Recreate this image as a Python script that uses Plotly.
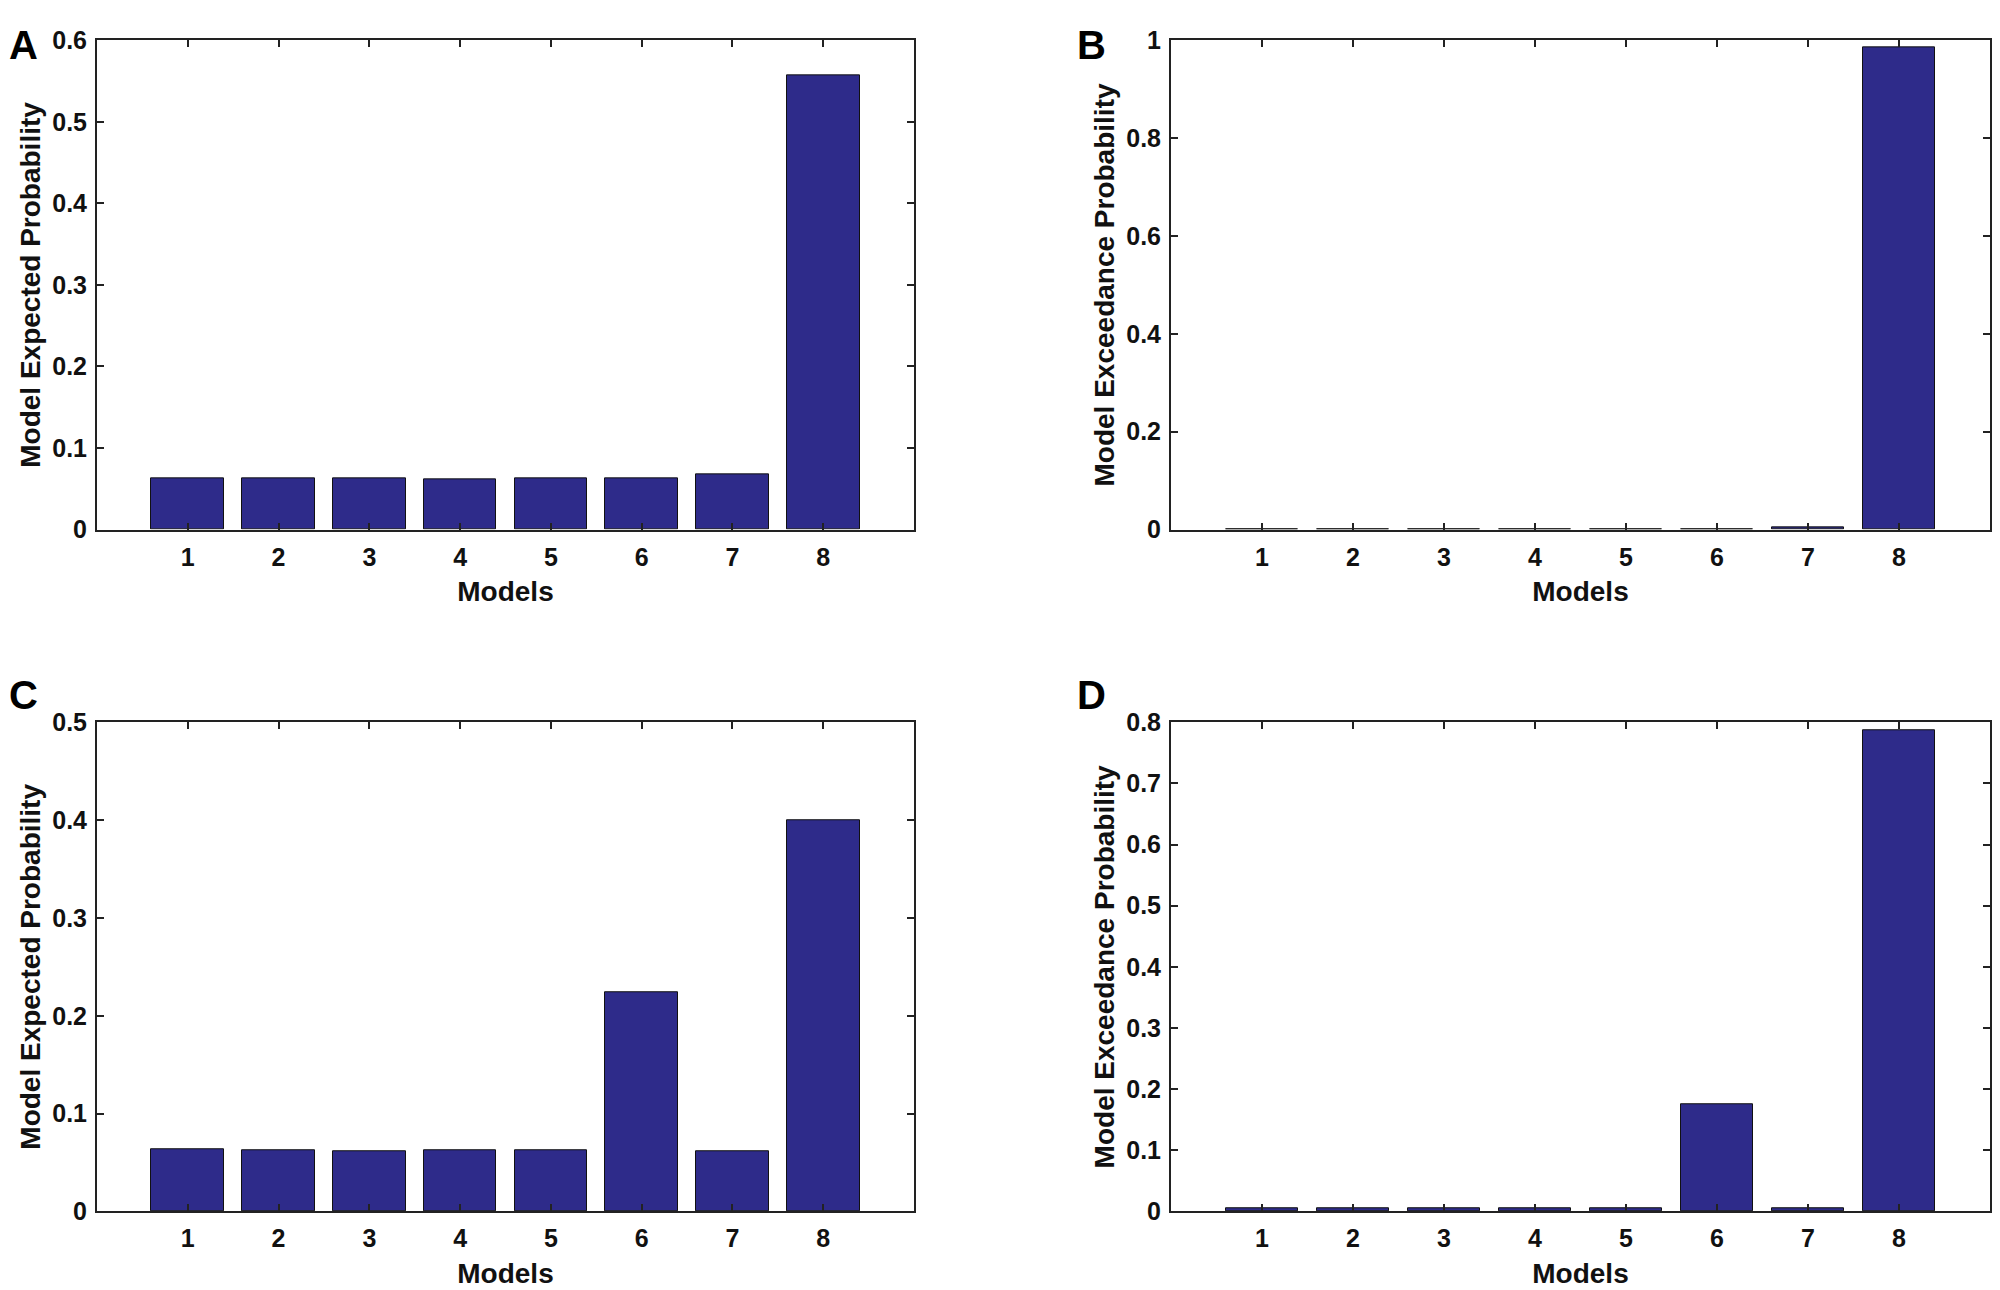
import plotly.graph_objects as go

# ==========================
# Datos
# ==========================
models = [1, 2, 3, 4, 5, 6, 7, 8]

exp_prob_a = [0.0625, 0.063, 0.063, 0.0615, 0.0625, 0.0625, 0.0676, 0.557]
exc_prob_b = [0.001, 0.001, 0.001, 0.001, 0.001, 0.001, 0.005, 0.985]
exp_prob_c = [0.0633, 0.0629, 0.062, 0.063, 0.063, 0.224, 0.062, 0.400]
exc_prob_d = [0.006, 0.0055, 0.005, 0.005, 0.005, 0.176, 0.006, 0.787]

panel_letters = ["A", "B", "C", "D"]
y_titles = ["Model Expected Probability", "Model Exceedance Probability",
            "Model Expected Probability", "Model Exceedance Probability"]
y_ranges = [[0, 0.6], [0, 1], [0, 0.5], [0, 0.8]]
y_dticks = [0.1, 0.2, 0.1, 0.1]

bar_color = "#2e2b8a"
font_family = "Liberation Sans, Arial, sans-serif"

# desfase de la página respecto a la captura
OX, OY, SY = 8, 20, 0.98
W = 2000 - 2 * OX
H = round(1290 / SY - OY)


def px_x(v):
    return (v - OX) / W


def px_y(v):
    return 1 - (v / SY - OY) / H


# dominios de cada panel (píxeles de la imagen)
x_doms = [[px_x(97), px_x(914)], [px_x(1171), px_x(1990)]] * 2
y_doms = [[px_y(528), px_y(38)]] * 2 + [[px_y(1211), px_y(721)]] * 2
letter_y = [1, 1, px_y(671), px_y(671)]

fig = go.Figure()

series = [exp_prob_a, exc_prob_b, exp_prob_c, exc_prob_d]
for i, vals in enumerate(series):
    n = "" if i == 0 else str(i + 1)
    fig.add_trace(go.Bar(
        x=models, y=vals, width=0.8,
        marker=dict(color=bar_color, line=dict(color="#111", width=1)),
        xaxis="x" + n, yaxis="y" + n, showlegend=False,
    ))

    axis_common = dict(
        showline=True, linecolor="#222", linewidth=2, mirror="ticks",
        ticks="inside", ticklen=7, tickwidth=1.5, tickcolor="#222",
        showgrid=False, zeroline=False,
        tickfont=dict(family=font_family, size=25, color="#111", weight="bold"),
    )
    fig.update_layout(**{
        "xaxis" + n: dict(
            axis_common, domain=x_doms[i], anchor="y" + n,
            range=[0, 9], tickvals=models, ticklabelstandoff=4,
            title=dict(text="Models", standoff=12,
                       font=dict(family=font_family, size=28, color="#111", weight="bold")),
        ),
        "yaxis" + n: dict(
            axis_common, domain=y_doms[i], anchor="x" + n,
            range=y_ranges[i], dtick=y_dticks[i], ticklabelstandoff=3,
            title=dict(text=y_titles[i], standoff=3,
                       font=dict(family=font_family, size=28, color="#111", weight="bold")),
        ),
    })

    # letra del panel
    fig.add_annotation(
        text=panel_letters[i], xref="paper", yref="paper",
        x=px_x(8 if i % 2 == 0 else 1076), y=letter_y[i],
        xanchor="left", yanchor="top", showarrow=False, borderpad=0,
        font=dict(family=font_family, size=40, color="#000", weight="bold"),
    )

fig.update_layout(
    width=W, height=H,
    margin=dict(l=0, r=0, t=0, b=0),
    paper_bgcolor="white", plot_bgcolor="white",
    bargap=0,
)

fig.write_html("out.html")
